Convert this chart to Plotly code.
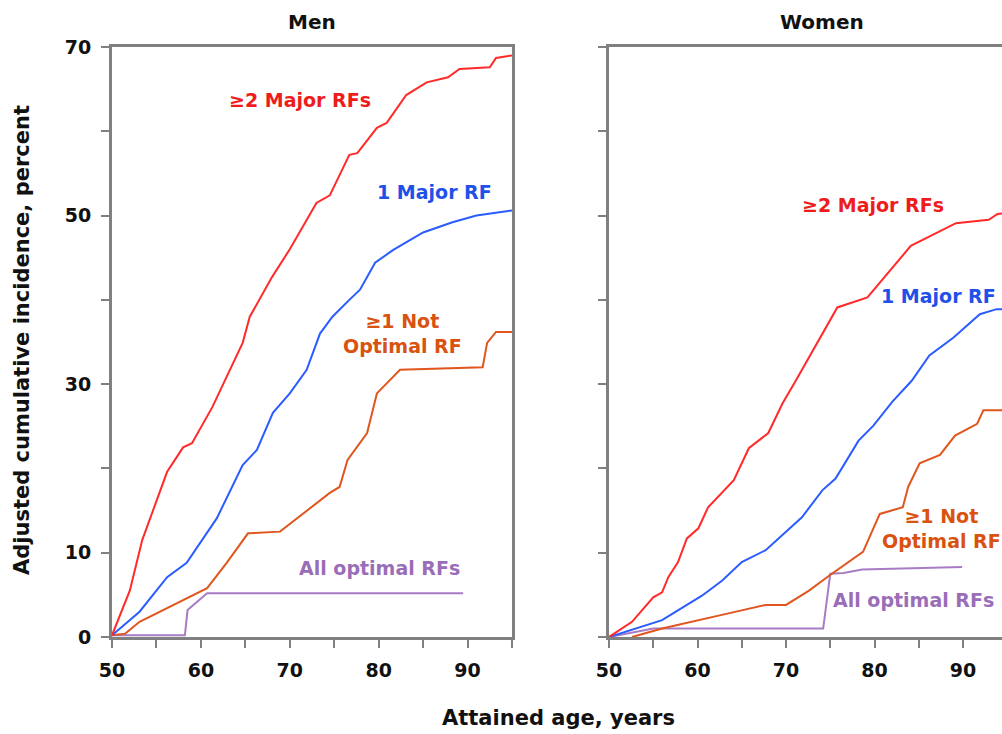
import plotly.graph_objects as go

# ---------------- Data ----------------
# Men
men_major2_age = [50, 52, 53.4, 56.2, 58, 59, 61.3, 63.6, 64.7, 65.5, 68, 70, 73, 74.5, 76.7, 77.6, 79.8, 80.9, 83.1, 85.4, 87.8, 89.1, 92.5, 93.2, 95]
men_major2_val = [0.2, 5.5, 11.5, 19.6, 22.5, 23, 27.3, 32.5, 34.9, 38, 42.7, 46, 51.5, 52.4, 57.2, 57.4, 60.4, 61, 64.3, 65.8, 66.4, 67.4, 67.6, 68.7, 69]

men_major1_age = [50, 53.1, 56.2, 58.4, 61.8, 64.7, 66.3, 68.1, 70, 71.9, 73.4, 74.8, 76.7, 77.9, 79.6, 81.6, 85, 88.3, 91, 95]
men_major1_val = [0.2, 3, 7.1, 8.8, 14.1, 20.4, 22.2, 26.6, 28.9, 31.7, 36, 38, 40, 41.2, 44.4, 45.9, 48, 49.2, 50, 50.6]

men_notopt_age = [50, 51.5, 53.1, 60.7, 62.9, 65.3, 68.9, 74.5, 75.6, 76.5, 78.7, 79.8, 82.4, 91.7, 92.2, 93.2, 95]
men_notopt_val = [0.2, 0.4, 1.8, 5.8, 8.8, 12.3, 12.5, 17.1, 17.8, 21, 24.2, 28.9, 31.7, 32, 34.9, 36.2, 36.2]

men_allopt_age = [50, 58.2, 58.5, 60.7, 89.5]
men_allopt_val = [0.2, 0.2, 3.2, 5.2, 5.2]

# Women
women_major2_age = [50, 52.6, 55, 56, 56.7, 57.8, 58.8, 60.1, 61.2, 64.1, 65.8, 68, 69.6, 71.1, 75.8, 79.2, 84.1, 89.2, 92.9, 93.9, 95]
women_major2_val = [0, 1.8, 4.7, 5.3, 7.1, 8.9, 11.7, 12.9, 15.4, 18.6, 22.4, 24.2, 27.7, 30.4, 39.1, 40.3, 46.4, 49.1, 49.5, 50.2, 50.3]

women_major1_age = [50, 56, 60.5, 62.8, 65, 67.7, 71.8, 74.1, 75.6, 78.2, 79.9, 82, 84.2, 86.2, 88.9, 91.9, 93.8, 95]
women_major1_val = [0, 2, 4.9, 6.7, 8.9, 10.3, 14.2, 17.4, 18.8, 23.3, 25.1, 27.9, 30.4, 33.4, 35.5, 38.3, 38.9, 38.9]

women_notopt_age = [52.6, 56, 63.5, 67.7, 70, 72.6, 74.9, 77.9, 78.7, 80.6, 83.2, 83.8, 85.1, 87.4, 89.1, 91.6, 92.3, 95]
women_notopt_val = [0, 1, 2.8, 3.8, 3.8, 5.5, 7.3, 9.5, 10.1, 14.6, 15.4, 17.8, 20.6, 21.6, 23.9, 25.3, 26.9, 26.9]

women_allopt_age = [50, 55, 74.2, 75, 76.5, 78.6, 89.9]
women_allopt_val = [0, 1, 1, 7.5, 7.6, 8, 8.3]

x_tickvals = [50, 55, 60, 65, 70, 75, 80, 85, 90, 95]
x_ticktext = ["50", "", "60", "", "70", "", "80", "", "90", ""]
y_tickvals = [0, 10, 20, 30, 40, 50, 60, 70]
y_ticktext = ["0", "10", "", "30", "", "50", "", "70"]

RED = "#ff2a2a"
BLUE = "#2a5cff"
ORANGE = "#e0561e"
PURPLE = "#a77cc4"
RED_T = "#ee1c1c"
BLUE_T = "#1f50e8"
ORANGE_T = "#d9520f"
PURPLE_T = "#9a6db8"
AXIS = "#808080"
FONT = "DejaVu Sans"

W, H = 1002, 734

fig = go.Figure()


def add(x, y, color, xa, ya):
    fig.add_trace(go.Scatter(x=x, y=y, mode="lines", line=dict(color=color, width=2),
                             xaxis=xa, yaxis=ya, showlegend=False, hoverinfo="skip"))


add(men_allopt_age, men_allopt_val, PURPLE, "x", "y")
add(men_notopt_age, men_notopt_val, ORANGE, "x", "y")
add(men_major1_age, men_major1_val, BLUE, "x", "y")
add(men_major2_age, men_major2_val, RED, "x", "y")

add(women_allopt_age, women_allopt_val, PURPLE, "x2", "y2")
add(women_notopt_age, women_notopt_val, ORANGE, "x2", "y2")
add(women_major1_age, women_major1_val, BLUE, "x2", "y2")
add(women_major2_age, women_major2_val, RED, "x2", "y2")

tickfont = dict(family=FONT, size=19, color="#111111", weight="bold")

common_x = dict(showline=True, linecolor=AXIS, linewidth=3, mirror=True,
                ticks="outside", ticklen=8, tickwidth=2, tickcolor=AXIS,
                tickvals=x_tickvals, ticktext=x_ticktext, tickfont=tickfont,
                showgrid=False, zeroline=False, ticklabelstandoff=6, automargin=False)
common_y = dict(showline=True, linecolor=AXIS, linewidth=3,
                ticks="outside", ticklen=8, tickwidth=2, tickcolor=AXIS,
                tickvals=y_tickvals, ticktext=y_ticktext, tickfont=tickfont,
                showgrid=False, zeroline=False, range=[0, 70], automargin=False,
                domain=[(H - 637) / H, (H - 47) / H])

px_per_year = 8.85
right_end = 50 + (W - 609) / px_per_year

fig.update_layout(
    width=W, height=H, autosize=False,
    margin=dict(l=0, r=0, t=0, b=0),
    paper_bgcolor="white", plot_bgcolor="white",
    xaxis=dict(domain=[112 / W, 512 / W], range=[50, 95], anchor="y", **common_x),
    xaxis2=dict(domain=[609 / W, 1.0], range=[50, right_end], anchor="y2", **common_x),
    yaxis=dict(anchor="x", mirror=True, ticklabelstandoff=6, **common_y),
    yaxis2=dict(anchor="x2", showticklabels=False, mirror=False, **common_y),
)

lab = dict(family=FONT, size=19, weight="bold")


def ann(text, x, y, color, xref="x", yref="y", xanchor="center"):
    fig.add_annotation(text=text, x=x, y=y, xref=xref, yref=yref, showarrow=False,
                       xanchor=xanchor, yanchor="middle", align="center",
                       font=dict(color=color, **lab))


# Men labels
ann("≥2 Major RFs", 71.1, 63.7, RED_T)
ann("1 Major RF", 86.3, 52.8, BLUE_T)
ann("≥1 Not<br>Optimal RF", 82.7, 36.0, ORANGE_T)
ann("All optimal RFs", 80.1, 8.2, PURPLE_T)

# Women labels
ann("≥2 Major RFs", 79.8, 51.2, RED_T, "x2", "y2")
ann("1 Major RF", 80.5, 40.4, BLUE_T, "x2", "y2", xanchor="left")
ann("≥1 Not<br>Optimal RF", 87.6, 12.9, ORANGE_T, "x2", "y2")
ann("All optimal RFs", 75.1, 4.4, PURPLE_T, "x2", "y2", xanchor="left")

# Titles
title_font = dict(family=FONT, size=20, color="#111111", weight="bold")
axis_title_font = dict(family=FONT, size=21, color="#111111", weight="bold")
fig.add_annotation(text="Men", x=(112 + 512) / 2 / W, y=1 - 22 / H, xref="paper", yref="paper",
                   showarrow=False, xanchor="center", yanchor="middle", font=title_font)
fig.add_annotation(text="Women", x=822 / W, y=1 - 22 / H, xref="paper", yref="paper",
                   showarrow=False, xanchor="center", yanchor="middle", font=title_font)
fig.add_annotation(text="Attained age, years", x=558 / W, y=1 - 718 / H, xref="paper", yref="paper",
                   showarrow=False, xanchor="center", yanchor="middle", font=axis_title_font)
fig.add_annotation(text="Adjusted cumulative incidence, percent", x=22 / W, y=1 - 340 / H,
                   xref="paper", yref="paper", textangle=-90,
                   showarrow=False, xanchor="center", yanchor="middle", font=axis_title_font)

fig.write_html("out.html")
